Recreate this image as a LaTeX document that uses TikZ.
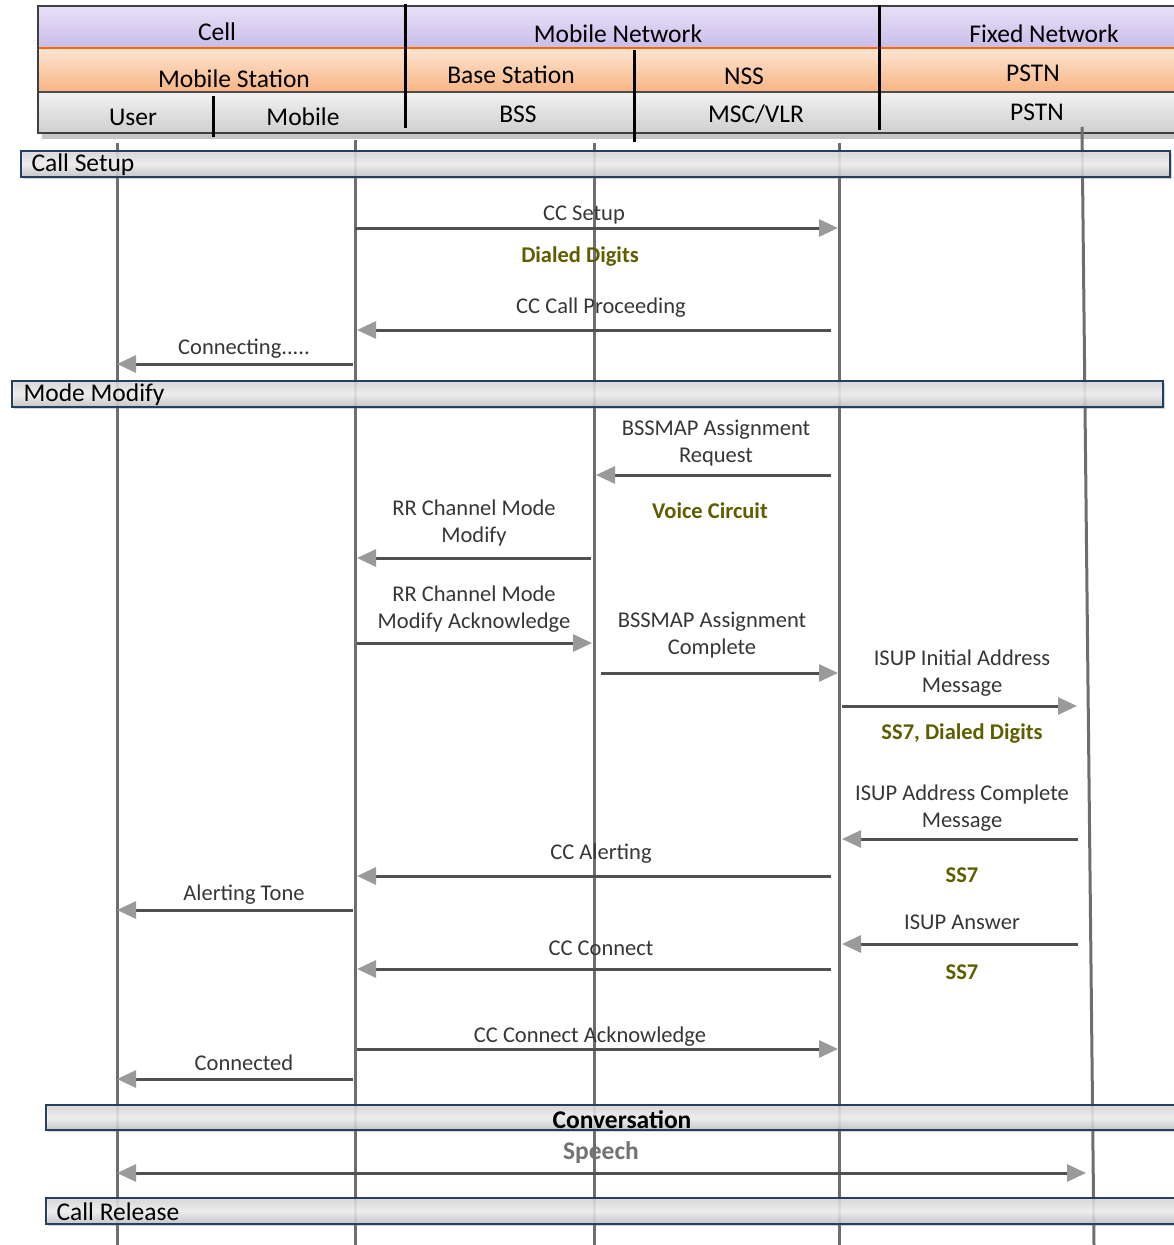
\documentclass[tikz,border=0pt]{standalone}
\usepackage{fontspec}
\setmainfont{Carlito}
\usetikzlibrary{arrows.meta,shadows,calc}

\definecolor{lifegray}{HTML}{6E6E6E}
\definecolor{linegray}{HTML}{505050}
\definecolor{tipgray}{HTML}{9A9A9A}
\definecolor{labelgray}{HTML}{363636}
\definecolor{olive}{HTML}{5E5E00}
\definecolor{barblue}{HTML}{243F60}
\definecolor{purpleA}{HTML}{E8E0F6}
\definecolor{purpleB}{HTML}{C9BCEA}
\definecolor{orangeA}{HTML}{FDE6D4}
\definecolor{orangeB}{HTML}{F8B482}
\definecolor{grayA}{HTML}{F2F2F2}
\definecolor{grayB}{HTML}{CFCFCF}
\definecolor{barA}{HTML}{D8D8D8}
\definecolor{barB}{HTML}{C4C4C4}

\tikzset{
  lifeline/.style={lifegray, line width=3pt},
  sep/.style={black, line width=3pt},
  msg/.style={linegray, line width=3pt,
    -{Triangle[length=19pt,width=17pt,fill=tipgray,color=tipgray]}},
  bothmsg/.style={linegray, line width=3pt,
    {Triangle[length=19pt,width=17pt,fill=tipgray,color=tipgray]}-{Triangle[length=19pt,width=17pt,fill=tipgray,color=tipgray]}},
  hdr/.style={font=\fontsize{25.5}{30}\selectfont, text=black},
  lbl/.style={font=\fontsize{22.5}{27.5}\selectfont, text=labelgray, align=center},
  note/.style={font=\fontsize{22.5}{27}\selectfont\bfseries, text=olive},
  bar/.style={draw=barblue, line width=2.2pt, fill opacity=0.85,
    top color=barA, bottom color=barB, middle color=grayA,
    drop shadow={opacity=0.35, shadow xshift=1.5pt, shadow yshift=-2pt}},
  bartext/.style={font=\fontsize{25.5}{30}\selectfont, text=black, anchor=west}
}

\begin{document}
\begin{tikzpicture}[x=1pt, y=-1pt]
\useasboundingbox (0,0) rectangle (1173,1245);

% ---------- header table ----------
\fill[black!45, opacity=0.5] (42,11) rectangle (1180,139);
\shade[top color=purpleA, bottom color=purpleB] (38,6) rectangle (1180,48);
\shade[top color=orangeA, bottom color=orangeB] (38,48) rectangle (1180,92);
\shade[top color=grayA, bottom color=grayB] (38,92) rectangle (1180,133);
\draw[orange!80!red, line width=1.5pt] (38,48) -- (1180,48);
\draw[black!70, line width=1.2pt] (38,92) -- (1180,92);
\draw[black!75, line width=1.5pt] (38,6) rectangle (1180,133);

\draw[sep] (405,4) -- (405,128);
\draw[sep] (213,96) -- (213,137);
\draw[sep] (634,50) -- (634,142);
\draw[sep] (879,5) -- (879,130);

\node[hdr] (hCell) at (217,32) {Cell};
\node[hdr] (hMobNet) at (618,34) {Mobile Network};
\node[hdr] (hFixNet) at (1044,34) {Fixed Network};
\node[hdr] (hMS) at (234,79) {Mobile Station};
\node[hdr] (hBase) at (511,75) {Base Station};
\node[hdr] (hNSS) at (744,76) {NSS};
\node[hdr] (hPSTNa) at (1033,73) {PSTN};
\node[hdr] (hUser) at (133,117) {User};
\node[hdr] (hMobile) at (303,117) {Mobile};
\node[hdr] (hBSS) at (518,114) {BSS};
\node[hdr] (hMSC) at (756,114) {MSC/VLR};
\node[hdr] (hPSTNb) at (1037,112) {PSTN};

% ---------- lifelines ----------
\coordinate (U) at (117,143);
\coordinate (M) at (355,140);
\coordinate (B) at (594,143);
\coordinate (X) at (839,143);
\coordinate (P) at (1082,127);
\coordinate (Uend) at (117,1245);
\coordinate (Mend) at (355,1245);
\coordinate (Bend) at (594,1245);
\coordinate (Xend) at (839,1245);
\coordinate (Pend) at (1094,1245);
\draw[lifeline] (U) -- (Uend);
\draw[lifeline] (M) -- (Mend);
\draw[lifeline] (B) -- (Bend);
\draw[lifeline] (X) -- (Xend);
\draw[lifeline] (P) -- (Pend);

% ---------- phase bars ----------
\node[bar, minimum width=1149pt, minimum height=26pt, inner sep=0pt] (setup) at (595.5,164) {};
\node[bartext] (setupT) at (28,165) {Call Setup};
\node[bar, minimum width=1151pt, minimum height=26pt, inner sep=0pt] (modify) at (587.5,394) {};
\node[bartext] (modifyT) at (20,395) {Mode Modify};
\node[bar, minimum width=1140pt, minimum height=25pt, inner sep=0pt] (conv) at (616,1117.5) {};
\node[font=\fontsize{25.5}{30}\selectfont\bfseries] (convT) at (622,1120) {Conversation};
\node[bar, minimum width=1140pt, minimum height=26pt, inner sep=0pt] (rel) at (616,1211) {};
\node[bartext] (relT) at (53,1212) {Call Release};

% ---------- messages ----------
\node[lbl] (l1) at (584,215) {CC Setup};
\draw[msg] (M |- 0,228) -- ([xshift=-1pt]X |- 0,228);
\node[note] (n1) at (580,257) {Dialed Digits};

\node[lbl] (l2) at (601,308) {CC Call Proceeding};
\draw[msg] ([xshift=-8pt]X |- 0,330) -- ([xshift=2pt]M |- 0,330);

\node[lbl] (l3) at (244,349) {Connecting.....};
\draw[msg] ([xshift=-2pt]M |- 0,364) -- (U |- 0,364);

\node[lbl] (l4) at (716,443) {BSSMAP Assignment\\Request};
\draw[msg] ([xshift=-8pt]X |- 0,475) -- ([xshift=2pt]B |- 0,475);
\node[note] (n2) at (710,511) {Voice Circuit};

\node[lbl] (l5) at (474,523) {RR Channel Mode\\Modify};
\draw[msg] ([xshift=-3pt]B |- 0,558) -- ([xshift=2pt]M |- 0,558);

\node[lbl] (l6) at (474,609) {RR Channel Mode\\Modify Acknowledge};
\draw[msg] ([xshift=2pt]M |- 0,643) -- ([xshift=-2pt]B |- 0,643);

\node[lbl] (l7) at (712,635) {BSSMAP Assignment\\Complete};
\draw[msg] ([xshift=7pt]B |- 0,673) -- ([xshift=-1pt]X |- 0,673);

\node[lbl] (l8) at (962,673) {ISUP Initial Address\\Message};
\draw[msg] ([xshift=3pt]X |- 0,706) -- (1077,706);
\node[note] (n3) at (962,734) {SS7, Dialed Digits};

\node[lbl] (l9) at (962,808) {ISUP Address Complete\\Message};
\draw[msg] (1078,839) -- ([xshift=3pt]X |- 0,839);
\node[note] (n4) at (962,875) {SS7};

\node[lbl] (l10) at (601,854) {CC Alerting};
\draw[msg] ([xshift=-8pt]X |- 0,876) -- ([xshift=2pt]M |- 0,876);

\node[lbl] (l11) at (244,895) {Alerting Tone};
\draw[msg] ([xshift=-2pt]M |- 0,910) -- (U |- 0,910);

\node[lbl] (l12) at (962,922) {ISUP Answer};
\draw[msg] (1078,944) -- ([xshift=3pt]X |- 0,944);
\node[note] (n5) at (962,972) {SS7};

\node[lbl] (l13) at (601,948) {CC Connect};
\draw[msg] ([xshift=-8pt]X |- 0,969) -- ([xshift=2pt]M |- 0,969);

\node[lbl] (l14) at (590,1037) {CC Connect Acknowledge};
\draw[msg] ([xshift=2pt]M |- 0,1049) -- ([xshift=-1pt]X |- 0,1049);

\node[lbl] (l15) at (244,1063) {Connected};
\draw[msg] ([xshift=-2pt]M |- 0,1079) -- (U |- 0,1079);

\node[font=\fontsize{25.5}{30}\selectfont\bfseries, text=black!55] (l16) at (601,1153) {Speech};
\draw[bothmsg] (U |- 0,1173) -- (1086,1173);

\end{tikzpicture}
\end{document}
